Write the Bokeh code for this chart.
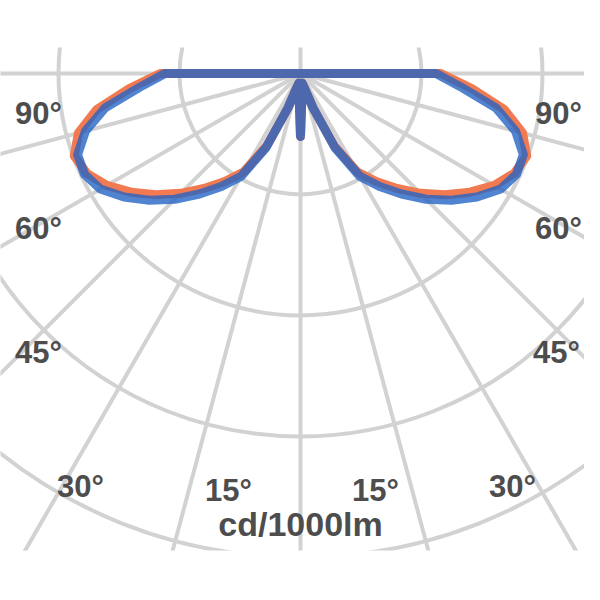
import numpy as np
from bokeh.plotting import figure
from bokeh.models import Range1d
from bokeh.embed import file_html
from bokeh.resources import INLINE
from bokeh.core.properties import value

# ---- data (cd/1000lm), gamma angle from nadir ----
gamma_deg = [0, 5, 10, 15, 20, 25, 30, 35, 40, 45, 50, 55, 60, 65, 70, 75, 80, 85, 90, 95]
c0_c180 = [52, 15, 8, 12, 30, 68, 98, 114, 130, 147, 163, 178, 191, 197, 196, 184, 164, 134, 112, 0]
c90_c270 = [52, 15, 8, 12, 30, 66, 94, 109, 124, 140, 156, 171, 185, 195, 199, 190, 171, 142, 116, 0]

ring_values = [100, 200, 300, 400, 500]
spoke_angles = [-90, -75, -60, -45, -30, -15, 0, 15, 30, 45, 60, 75, 90, 180]

angle_labels = ["90°", "60°", "45°", "30°", "15°", "15°", "30°", "45°", "60°", "90°"]
unit_label = "cd/1000lm"

# ---- layout ----
W, H = 584, 584
PX = 1.21                      # pixels per cd/klm
CX, CY = 300, 73               # pole position in figure pixels
top_b, bot_b = 47, 34
frame_h = H - top_b - bot_b

p = figure(width=W, height=H, output_backend="svg", toolbar_location=None,
           x_range=Range1d(-CX / PX, (W - CX) / PX),
           y_range=Range1d((CY - top_b - frame_h) / PX, (CY - top_b) / PX),
           min_border_left=0, min_border_right=0, min_border_top=top_b,
           min_border_bottom=bot_b, title=None)
p.axis.visible = False
p.grid.visible = False
p.outline_line_color = None
p.background_fill_color = "white"

grid_col = "#d2d2d2"
# rings
p.circle(x=[0] * len(ring_values), y=[0] * len(ring_values), radius=ring_values,
         fill_color=None, line_color=grid_col, line_width=4)
# spokes
R = 700
sa = np.radians(spoke_angles)
p.segment(x0=[0] * len(sa), y0=[0] * len(sa), x1=list(R * np.sin(sa)), y1=list(-R * np.cos(sa)),
          line_color=grid_col, line_width=4)


def curve(vals):
    g = np.radians(gamma_deg)
    r = np.array(vals, dtype=float)
    xr = r * np.sin(g)
    yr = -r * np.cos(g)
    xs = np.concatenate([-xr[::-1], xr[1:]])
    ys = np.concatenate([yr[::-1], yr[1:]])
    return list(xs), list(ys)


xo, yo = curve(c90_c270)
p.line(xo, yo, line_color="#f27a50", line_width=9, line_join="round")
xb, yb = curve(c0_c180)
p.line(xb, yb, line_color="#2464c4", line_width=9, line_alpha=0.8, line_join="round")

# angle labels (pixel anchors converted to data coordinates)
lab_px = [(38, 113), (38, 228), (38, 352), (80, 486), (228, 490),
          (375, 490), (512, 486), (556, 352), (558, 228), (558, 113)]
lx = [(px - CX) / PX for px, py in lab_px]
ly = [(CY - py) / PX for px, py in lab_px]
p.text(x=lx, y=ly, text=angle_labels, text_align="center", text_baseline="middle",
       text_font=value("Liberation Sans"), text_font_size="31px", text_font_style="bold",
       text_color="#4d4d4d")
p.text(x=[0], y=[(CY - 523) / PX], text=[unit_label], text_align="center", text_baseline="middle",
       text_font=value("Liberation Sans"), text_font_size="34px", text_font_style="bold",
       text_color="#4d4d4d")

open("out.html", "w").write(file_html(p, INLINE))
